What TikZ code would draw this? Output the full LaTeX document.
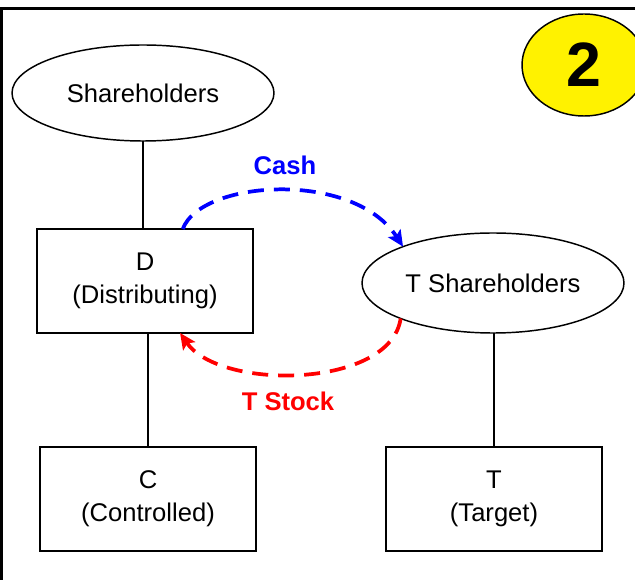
\documentclass[tikz,border=0pt]{standalone}
\usepackage{fontspec}
\setmainfont{Liberation Sans}
\usetikzlibrary{shapes.geometric,arrows.meta,calc}
\begin{document}
\begin{tikzpicture}[x=0.75pt,y=-0.75pt,
 ent/.style={draw=black,line width=1.1pt,fill=white,inner sep=0pt,outer sep=0pt,font=\fontsize{19.2}{24.75}\selectfont,align=center},
 boxnode/.style={ent,rectangle,minimum width=162pt,minimum height=78pt},
 ellnode/.style={ent,ellipse,minimum width=196.5pt},
 link/.style={line width=1.1pt,draw=black},
 flow/.style={line width=2.8pt,dash pattern=on 12pt off 7.5pt,-{Stealth[length=12pt,width=11pt,inset=2.5pt]}},
 lbl/.style={font=\fontsize{19.2}{23}\selectfont\bfseries}
]
\clip (0,0) rectangle (635,580);
\fill[white] (0,0) rectangle (635,580);
\draw[line width=2.25pt] (1.5,640) -- (1.5,8.5) -- (700,8.5);

\node[ellnode,minimum height=72pt] (Sh) at (143,93) {Shareholders};
\node[boxnode] (D) at (145,281) {D\\(Distributing)};
\node[ellnode,minimum height=75pt] (TS) at (493,283) {T Shareholders};
\node[boxnode] (C) at (148,499) {C\\(Controlled)};
\node[boxnode] (T) at (494,499) {T\\(Target)};
\node[ent,ellipse,fill=yellow,minimum width=93pt,minimum height=76.5pt,font=\fontsize{47}{47}\selectfont\bfseries] (badge) at (584,65) {2};

\draw[link] (Sh.south) -- (Sh.south |- D.north);
\draw[link] (C.north |- D.south) -- (C.north);
\draw[link] (T.north |- TS.south) -- (T.north);

\draw[flow,blue] (D.54.6) .. controls +(18,-49) and +(-50,-77) .. (TS.158.8);
\draw[flow,red] (TS.201.7) .. controls +(-10,70) and +(40,58) .. (D.-56);

\node[lbl,text=blue] (cash) at (285,165) {Cash};
\node[lbl,text=red] (tstock) at (288,401) {T Stock};
\end{tikzpicture}
\end{document}
